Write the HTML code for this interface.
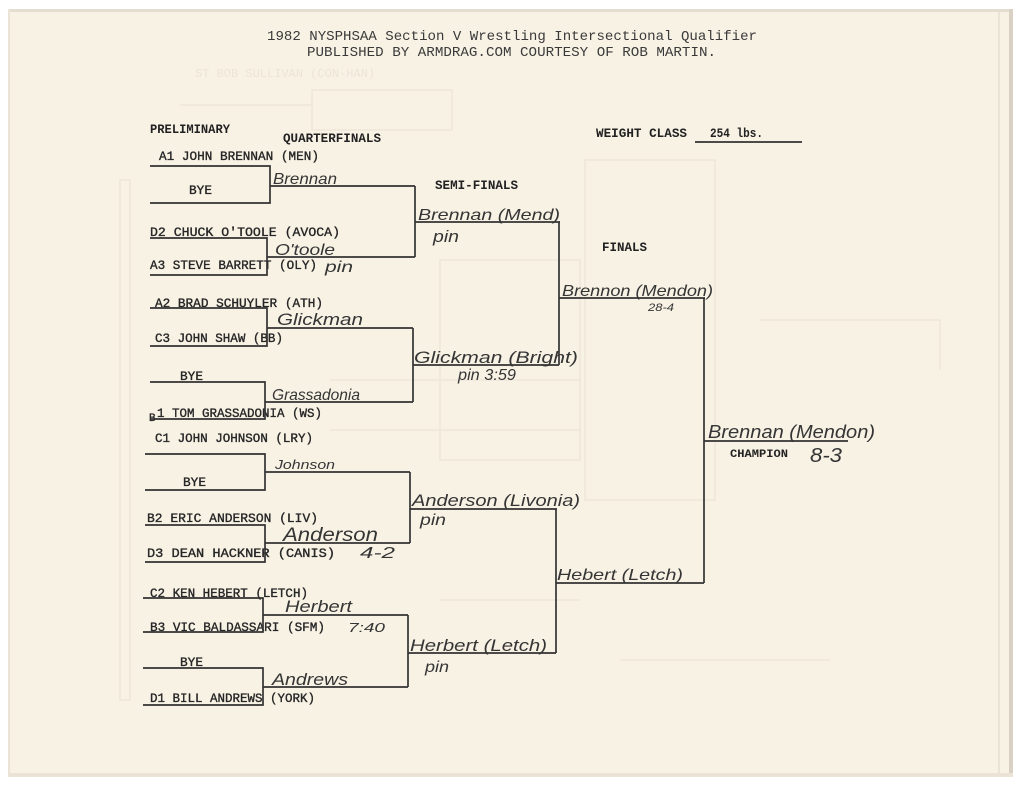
<!DOCTYPE html>
<html><head><meta charset="utf-8"><style>
html,body{margin:0;padding:0;background:#fff;}
svg{display:block;}
.tw{font-family:"Liberation Mono",monospace;font-size:12.5px;fill:#262626;stroke:#262626;stroke-width:0.35;}
.hd{font-family:"Liberation Mono",monospace;font-size:12.5px;font-weight:bold;fill:#222;}
.hw{font-family:"Liberation Sans",sans-serif;font-style:italic;font-size:16px;fill:#353535;}
.ti{font-family:"Liberation Mono",monospace;font-size:14px;fill:#3a3a3a;}
.ln{stroke:#333;stroke-width:1.7;fill:none;}
.gh{stroke:#ede6d9;stroke-width:1.5;fill:none;}
.ght{font-family:"Liberation Mono",monospace;font-size:12px;fill:#ebe4d7;}
</style></head><body>
<svg width="1024" height="786" viewBox="0 0 1024 786" xmlns="http://www.w3.org/2000/svg">
<rect x="0" y="0" width="1024" height="786" fill="#ffffff"/>
<rect x="8" y="9" width="1005" height="768" fill="#f8f2e5"/>
<rect x="8" y="9" width="1005" height="3" fill="#e4ddd0"/>
<rect x="8" y="9" width="2" height="768" fill="#ebe4d6"/>
<rect x="1009" y="9" width="4" height="768" fill="#d9d2c4"/>
<line x1="999" y1="12" x2="999" y2="777" stroke="#ddd5c7" stroke-width="1"/>
<rect x="8" y="773" width="1005" height="4" fill="#ebe4d6"/>

<!-- ghost bleed-through -->
<g>
<text class="ght" x="195" y="77">ST BOB SULLIVAN (CON-HAN)</text>
<rect class="gh" x="312" y="90" width="140" height="40"/>
<polyline class="gh" points="180,105 312,105"/>
<rect class="gh" x="585" y="160" width="130" height="340"/>
<rect class="gh" x="440" y="260" width="140" height="200"/>
<polyline class="gh" points="760,320 940,320 940,370"/>
<polyline class="gh" points="620,660 830,660"/>
<rect class="gh" x="120" y="180" width="10" height="520"/>
<polyline class="gh" points="330,380 580,380"/>
<polyline class="gh" points="330,430 580,430"/>
<polyline class="gh" points="440,600 580,600"/>
</g>

<!-- title -->
<text class="ti" x="267" y="40" textLength="490" lengthAdjust="spacingAndGlyphs">1982 NYSPHSAA Section V Wrestling Intersectional Qualifier</text>
<text class="ti" x="307" y="56" textLength="409" lengthAdjust="spacingAndGlyphs">PUBLISHED BY ARMDRAG.COM COURTESY OF ROB MARTIN.</text>

<!-- headers -->
<text class="hd" x="150" y="133" textLength="80" lengthAdjust="spacingAndGlyphs">PRELIMINARY</text>
<text class="hd" x="283" y="142" textLength="98" lengthAdjust="spacingAndGlyphs">QUARTERFINALS</text>
<text class="hd" x="435" y="189" textLength="83" lengthAdjust="spacingAndGlyphs">SEMI-FINALS</text>
<text class="hd" x="596" y="137" textLength="91" lengthAdjust="spacingAndGlyphs">WEIGHT CLASS</text>
<text class="hd" x="710" y="137" textLength="53" lengthAdjust="spacingAndGlyphs">254 lbs.</text>
<line class="ln" x1="695" y1="142" x2="802" y2="142"/>
<text class="hd" x="602" y="251" textLength="45" lengthAdjust="spacingAndGlyphs">FINALS</text>
<text class="hd" x="730" y="457" style="font-size:11px" textLength="58" lengthAdjust="spacingAndGlyphs">CHAMPION</text>

<!-- entries -->
<text class="tw" x="159" y="160" textLength="160" lengthAdjust="spacingAndGlyphs">A1 JOHN BRENNAN (MEN)</text>
<text class="tw" x="189" y="194" textLength="23" lengthAdjust="spacingAndGlyphs">BYE</text>
<text class="tw" x="150" y="236" textLength="190" lengthAdjust="spacingAndGlyphs">D2 CHUCK O'TOOLE (AVOCA)</text>
<text class="tw" x="150" y="269" textLength="167" lengthAdjust="spacingAndGlyphs">A3 STEVE BARRETT (OLY)</text>
<text class="tw" x="155" y="307" textLength="168" lengthAdjust="spacingAndGlyphs">A2 BRAD SCHUYLER (ATH)</text>
<text class="tw" x="155" y="342" textLength="128" lengthAdjust="spacingAndGlyphs">C3 JOHN SHAW (BB)</text>
<text class="tw" x="180" y="380" textLength="23" lengthAdjust="spacingAndGlyphs">BYE</text>
<text class="tw" x="149" y="421" style="font-size:11px">B</text>
<text class="tw" x="157" y="417" textLength="165" lengthAdjust="spacingAndGlyphs">1 TOM GRASSADONIA (WS)</text>
<text class="tw" x="155" y="442" textLength="158" lengthAdjust="spacingAndGlyphs">C1 JOHN JOHNSON (LRY)</text>
<text class="tw" x="183" y="486" textLength="23" lengthAdjust="spacingAndGlyphs">BYE</text>
<text class="tw" x="147" y="522" textLength="171" lengthAdjust="spacingAndGlyphs">B2 ERIC ANDERSON (LIV)</text>
<text class="tw" x="147" y="557" textLength="188" lengthAdjust="spacingAndGlyphs">D3 DEAN HACKNER (CANIS)</text>
<text class="tw" x="150" y="597" textLength="158" lengthAdjust="spacingAndGlyphs">C2 KEN HEBERT (LETCH)</text>
<text class="tw" x="150" y="631" textLength="175" lengthAdjust="spacingAndGlyphs">B3 VIC BALDASSARI (SFM)</text>
<text class="tw" x="180" y="666" textLength="23" lengthAdjust="spacingAndGlyphs">BYE</text>
<text class="tw" x="150" y="702" textLength="165" lengthAdjust="spacingAndGlyphs">D1 BILL ANDREWS (YORK)</text>

<!-- bracket lines -->
<g class="ln">
<polyline points="150,166 270,166 270,203 150,203"/>
<line x1="270" y1="186" x2="415" y2="186"/>
<polyline points="150,238 267,238 267,275 150,275"/>
<line x1="267" y1="257" x2="415" y2="257"/>
<line x1="415" y1="186" x2="415" y2="257"/>
<line x1="415" y1="222" x2="560" y2="222"/>
<polyline points="150,308 267,308 267,346 150,346"/>
<line x1="267" y1="328" x2="413" y2="328"/>
<polyline points="150,382 265,382 265,419 150,419"/>
<line x1="265" y1="402" x2="413" y2="402"/>
<line x1="413" y1="328" x2="413" y2="402"/>
<line x1="413" y1="365" x2="559" y2="365"/>
<line x1="559" y1="222" x2="559" y2="365"/>
<line x1="559" y1="298" x2="705" y2="298"/>
<polyline points="145,454 265,454 265,490 145,490"/>
<line x1="265" y1="472" x2="410" y2="472"/>
<polyline points="145,525 265,525 265,562 145,562"/>
<line x1="265" y1="543" x2="410" y2="543"/>
<line x1="410" y1="472" x2="410" y2="543"/>
<line x1="410" y1="509" x2="557" y2="509"/>
<polyline points="143,598 263,598 263,632 143,632"/>
<line x1="263" y1="615" x2="408" y2="615"/>
<polyline points="143,668 263,668 263,705 143,705"/>
<line x1="263" y1="687" x2="408" y2="687"/>
<line x1="408" y1="615" x2="408" y2="687"/>
<line x1="408" y1="653" x2="556" y2="653"/>
<line x1="556" y1="509" x2="556" y2="653"/>
<line x1="556" y1="583" x2="704" y2="583"/>
<line x1="704" y1="298" x2="704" y2="583"/>
<line x1="704" y1="441" x2="848" y2="441"/>
</g>

<!-- handwriting -->
<text class="hw" x="273" y="184" textLength="64" lengthAdjust="spacingAndGlyphs">Brennan</text>
<text class="hw" x="275" y="255" textLength="60" lengthAdjust="spacingAndGlyphs">O'toole</text>
<text class="hw" x="325" y="272" textLength="28" lengthAdjust="spacingAndGlyphs">pin</text>
<text class="hw" x="418" y="220" textLength="142" lengthAdjust="spacingAndGlyphs">Brennan (Mend)</text>
<text class="hw" x="433" y="242" style="font-size:17px" textLength="26" lengthAdjust="spacingAndGlyphs">pin</text>
<text class="hw" x="277" y="325" style="font-size:17px" textLength="86" lengthAdjust="spacingAndGlyphs">Glickman</text>
<text class="hw" x="414" y="363" style="font-size:17px" textLength="164" lengthAdjust="spacingAndGlyphs">Glickman (Bright)</text>
<text class="hw" x="458" y="380" textLength="58" lengthAdjust="spacingAndGlyphs">pin 3:59</text>
<text class="hw" x="272" y="400" textLength="88" lengthAdjust="spacingAndGlyphs">Grassadonia</text>
<text class="hw" x="275" y="469" style="font-size:13px" textLength="60" lengthAdjust="spacingAndGlyphs">Johnson</text>
<text class="hw" x="412" y="506" style="font-size:17px" textLength="168" lengthAdjust="spacingAndGlyphs">Anderson (Livonia)</text>
<text class="hw" x="420" y="525" textLength="26" lengthAdjust="spacingAndGlyphs">pin</text>
<text class="hw" x="283" y="541" style="font-size:19px" textLength="95" lengthAdjust="spacingAndGlyphs">Anderson</text>
<text class="hw" x="360" y="558" textLength="35" lengthAdjust="spacingAndGlyphs">4-2</text>
<text class="hw" x="285" y="612" style="font-size:17px" textLength="67" lengthAdjust="spacingAndGlyphs">Herbert</text>
<text class="hw" x="348" y="632" style="font-size:13px" textLength="37" lengthAdjust="spacingAndGlyphs">7:40</text>
<text class="hw" x="410" y="651" style="font-size:17px" textLength="137" lengthAdjust="spacingAndGlyphs">Herbert (Letch)</text>
<text class="hw" x="425" y="672" textLength="24" lengthAdjust="spacingAndGlyphs">pin</text>
<text class="hw" x="272" y="685" style="font-size:17px" textLength="76" lengthAdjust="spacingAndGlyphs">Andrews</text>
<text class="hw" x="562" y="296" textLength="151" lengthAdjust="spacingAndGlyphs">Brennon (Mendon)</text>
<text class="hw" x="648" y="311" style="font-size:11px" textLength="26" lengthAdjust="spacingAndGlyphs">28-4</text>
<text class="hw" x="557" y="580" textLength="126" lengthAdjust="spacingAndGlyphs">Hebert (Letch)</text>
<text class="hw" x="708" y="438" style="font-size:18px" textLength="167" lengthAdjust="spacingAndGlyphs">Brennan (Mendon)</text>
<text class="hw" x="810" y="462" style="font-size:20px" textLength="32" lengthAdjust="spacingAndGlyphs">8-3</text>
</svg>
</body></html>
